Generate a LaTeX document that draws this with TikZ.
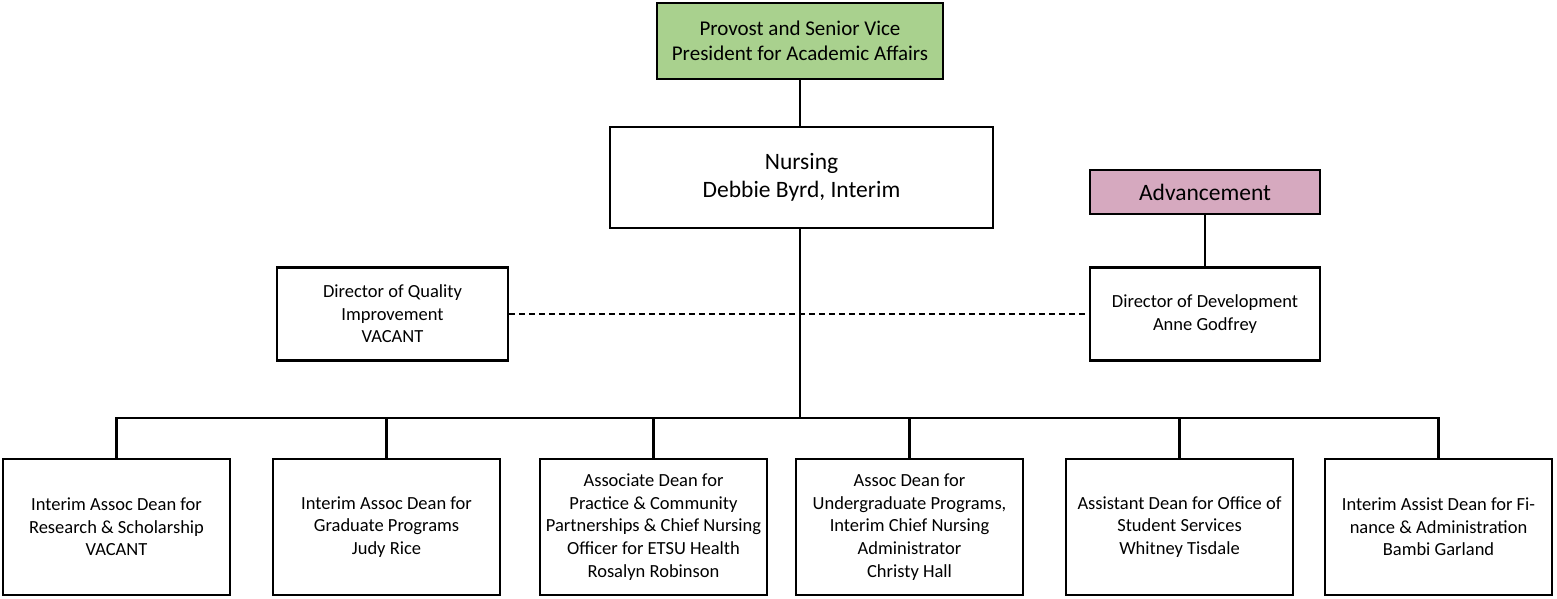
\documentclass[tikz,border=0pt]{standalone}
\usepackage{fontspec}
\setmainfont{Carlito}
\definecolor{provostgreen}{RGB}{169,209,142}
\definecolor{advpink}{RGB}{214,169,191}
\begin{document}
\begin{tikzpicture}
[x=1pt,y=-1pt,
  boxdecorate/.style={shape=rectangle,draw,line width=2.2pt,align=center,inner sep=2pt},
  deandecorate/.style={boxdecorate,minimum width=227pt,minimum height=136pt,
    font=\fontsize{18.5}{22.6}\selectfont},
  directordecorate/.style={boxdecorate,minimum width=231pt,minimum height=93pt,
    font=\fontsize{18.5}{22.6}\selectfont},
  linedecorate/.style={line width=2.2pt},
  dashdecorate/.style={line width=1.8pt,dash pattern=on 6pt off 4pt}]
\useasboundingbox (0,0) rectangle (1557,598);
%% top of the chart
\node (prov) at (800,41) [boxdecorate,fill=provostgreen,minimum width=286pt,
  minimum height=76pt,font=\fontsize{21}{24.5}\selectfont]
  {Provost and Senior Vice\\President for Academic Affairs};
\node (nurs) at (801.5,177.5) [boxdecorate,minimum width=383pt,minimum height=101pt,
  font=\fontsize{23.5}{28}\selectfont] {Nursing\\Debbie Byrd, Interim};
\node (adv) at (1205,192) [boxdecorate,fill=advpink,minimum width=230pt,
  minimum height=44pt,font=\fontsize{23.5}{28}\selectfont] {Advancement};
%% directors
\node (qual) at (392.5,314) [directordecorate]
  {Director of Quality\\Improvement\\VACANT};
\node (dev) at (1205,314) [directordecorate,minimum width=230pt]
  {Director of Development\\Anne Godfrey};
%% deans
\foreach \nodename/\x/\txt in {
  res/116.5/{Interim Assoc Dean for\\Research \& Scholarship\\VACANT},
  grad/386.5/{Interim Assoc Dean for\\Graduate Programs\\Judy Rice},
  prac/653.5/{Associate Dean for\\Practice \& Community\\Partnerships \& Chief Nursing\\Officer for ETSU Health\\Rosalyn Robinson},
  ugrad/909.5/{Assoc Dean for\\Undergraduate Programs,\\Interim Chief Nursing\\Administrator\\Christy Hall},
  stud/1179.5/{Assistant Dean for Office of\\Student Services\\Whitney Tisdale},
  fin/1438.5/{Interim Assist Dean for Fi-\\nance \& Administration\\Bambi Garland}}
{
  \node (\nodename) at (\x,527) [deandecorate] {\txt};
}
%% edges or lines
\coordinate (bus) at (800,418);
\path
  (prov) edge[linedecorate] (prov |- nurs.north)
  (adv) edge[linedecorate] (dev)
  (qual.east) edge[dashdecorate] (dev.west);
\draw[linedecorate] (nurs.south -| bus) -- (bus);
\draw[linedecorate] (res.north) -- (res.north |- bus) -- (fin.north |- bus) -- (fin.north);
\foreach \nodename in {grad, prac, ugrad, stud}
{
  \draw[linedecorate] (\nodename.north) -- (\nodename.north |- bus);
}
\end{tikzpicture}
\end{document}
